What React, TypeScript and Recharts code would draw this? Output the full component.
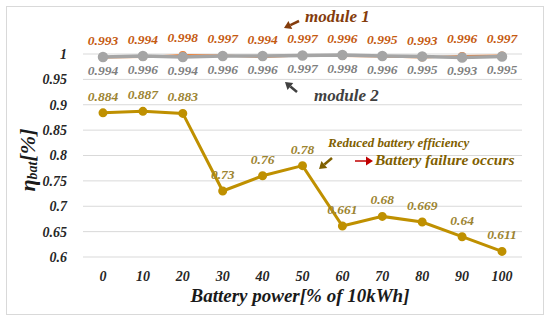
import { CartesianGrid, LabelList, Line, LineChart, XAxis, YAxis } from "recharts";

const categories = ["0", "10", "20", "30", "40", "50", "60", "70", "80", "90", "100"];
const module1 = [0.993, 0.994, 0.998, 0.997, 0.994, 0.997, 0.996, 0.995, 0.993, 0.996, 0.997];
const module2 = [0.994, 0.996, 0.994, 0.996, 0.996, 0.997, 0.998, 0.996, 0.995, 0.993, 0.995];
const batteryEff = [0.884, 0.887, 0.883, 0.73, 0.76, 0.78, 0.661, 0.68, 0.669, 0.64, 0.611];
const yTicks = [0.6, 0.65, 0.7, 0.75, 0.8, 0.85, 0.9, 0.95, 1];

const data = categories.map((c, i) => ({
  power: c,
  module1: module1[i],
  module2: module2[i],
  battery: batteryEff[i],
}));

const FONT = "Liberation Serif";
const labelStyle = { fontFamily: FONT, fontStyle: "italic", fontWeight: 700, fontSize: 13.5 };

function Arrow({ x1, y1, x2, y2, color, w = 2.5 }: { x1: number; y1: number; x2: number; y2: number; color: string; w?: number }) {
  const a = Math.atan2(y2 - y1, x2 - x1);
  const L = 7;
  const W = 4.5;
  const bx = x2 - L * Math.cos(a);
  const by = y2 - L * Math.sin(a);
  const px = -Math.sin(a) * W;
  const py = Math.cos(a) * W;
  return (
    <g>
      <line x1={x1} y1={y1} x2={bx} y2={by} stroke={color} strokeWidth={w} />
      <polygon points={`${x2},${y2} ${bx + px},${by + py} ${bx - px},${by - py}`} fill={color} />
    </g>
  );
}

export default function App() {
  return (
    <div style={{ position: "absolute", left: 0, top: 0, width: 550, height: 322, background: "#fff" }}>
      <svg width={550} height={322} style={{ position: "absolute", left: 0, top: 0 }}>
        <rect x={6.5} y={6.5} width={537} height={308} fill="#fff" stroke="#D9D9D9" strokeWidth={1} />
      </svg>
      <div style={{ position: "absolute", left: 0, top: 0 }}>
        <LineChart width={550} height={322} data={data} margin={{ top: 54, right: 28, bottom: 35, left: 0 }}>
          <CartesianGrid stroke="#D9D9D9" vertical={false} />
          <XAxis
            dataKey="power"
            axisLine={false}
            tickLine={false}
            tickMargin={8}
            padding={{ left: 20, right: 20 }}
            tick={{ fill: "#262626", fontFamily: FONT, fontStyle: "italic", fontWeight: 700, fontSize: 14 }}
          />
          <YAxis
            width={83}
            domain={[0.6, 1]}
            ticks={yTicks}
            axisLine={false}
            tickLine={false}
            tickMargin={10}
            tick={{ fill: "#262626", fontFamily: FONT, fontStyle: "italic", fontWeight: 700, fontSize: 14 }}
          />
          <Line
            dataKey="module1"
            stroke="#ED7D31"
            strokeWidth={2}
            dot={{ r: 3, fill: "#ED7D31", stroke: "#ED7D31" }}
            isAnimationActive={false}
          >
            <LabelList dataKey="module1" position="top" offset={13} style={{ ...labelStyle, fill: "#C55A11" }} />
          </Line>
          <Line
            dataKey="module2"
            stroke="#A5A5A5"
            strokeWidth={3.5}
            dot={{ r: 3.5, fill: "#A5A5A5", stroke: "#A5A5A5" }}
            isAnimationActive={false}
          >
            <LabelList dataKey="module2" position="bottom" offset={8} style={{ ...labelStyle, fill: "#7F7F7F" }} />
          </Line>
          <Line
            dataKey="battery"
            stroke="#BF9000"
            strokeWidth={3}
            dot={{ r: 3, fill: "#BF9000", stroke: "#BF9000" }}
            isAnimationActive={false}
          >
            <LabelList dataKey="battery" position="top" offset={12} style={{ ...labelStyle, fill: "#9C8431" }} />
          </Line>
        </LineChart>
      </div>
      <svg width={550} height={322} style={{ position: "absolute", left: 0, top: 0, pointerEvents: "none" }}>
        <text
          x={30}
          y={160}
          transform="rotate(-90, 30, 160)"
          textAnchor="middle"
          dominantBaseline="middle"
          fill="#1a1a1a"
          fontFamily={FONT}
          fontStyle="italic"
          fontWeight={700}
          fontSize={22}
        >
          η<tspan fontSize={14} dy={4}>bat</tspan>
          <tspan dy={-4}>[%]</tspan>
        </text>
        <text x={300} y={298} textAnchor="middle" dominantBaseline="middle" fill="#1a1a1a" fontFamily={FONT} fontStyle="italic" fontWeight={700} fontSize={19}>
          Battery power[% of 10kWh]
        </text>
        <Arrow x1={299} y1={21} x2={284} y2={28} color="#843C0C" />
        <text x={305} y={18} dominantBaseline="middle" fill="#843C0C" fontFamily={FONT} fontStyle="italic" fontWeight={700} fontSize={17}>
          module 1
        </text>
        <Arrow x1={297} y1={92} x2={285} y2={82} color="#404040" />
        <text x={314} y={97} dominantBaseline="middle" fill="#404040" fontFamily={FONT} fontStyle="italic" fontWeight={700} fontSize={17}>
          module 2
        </text>
        <text x={328} y={144} dominantBaseline="middle" fill="#7F6000" fontFamily={FONT} fontStyle="italic" fontWeight={700} fontSize={13}>
          Reduced battery efficiency
        </text>
        <Arrow x1={332} y1={158} x2={319} y2={169} color="#7F6000" />
        <Arrow x1={355} y1={161} x2={373} y2={161} color="#C00000" w={1.5} />
        <text x={375} y={161} dominantBaseline="middle" fill="#7F6000" fontFamily={FONT} fontStyle="italic" fontWeight={700} fontSize={15.5}>
          Battery failure occurs
        </text>
      </svg>
    </div>
  );
}
